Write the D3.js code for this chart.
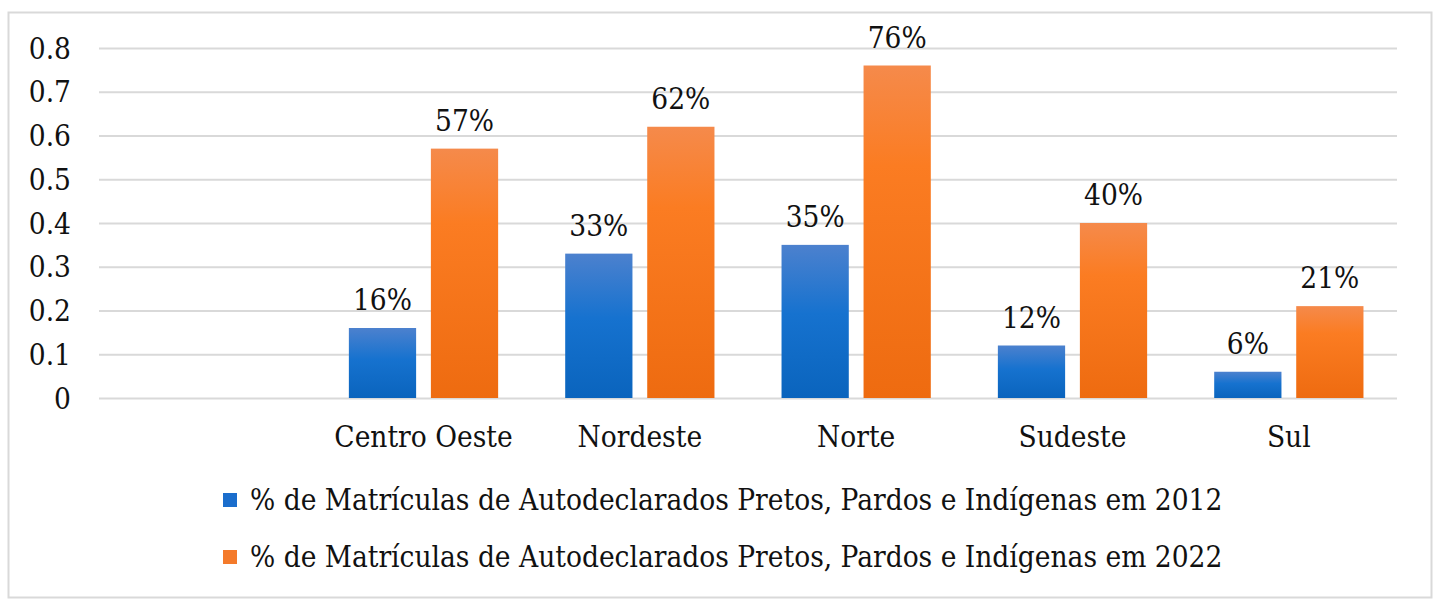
<!DOCTYPE html>
<html><head><meta charset="utf-8">
<script src="https://cdn.jsdelivr.net/npm/d3@7"></script>
<style>
html,body{margin:0;padding:0;background:#fff;}
svg text{font-family:"DejaVu Serif Condensed","DejaVu Serif",serif;font-stretch:condensed;fill:#111;}
</style></head>
<body>
<svg id="c" width="1440" height="606"></svg>
<script>
const categories = ["", "Centro Oeste", "Nordeste", "Norte", "Sudeste", "Sul"];
const series = ["% de Matrículas de Autodeclarados Pretos, Pardos e Indígenas em 2012",
                "% de Matrículas de Autodeclarados Pretos, Pardos e Indígenas em 2022"];
const values2012 = [null, 0.16, 0.33, 0.35, 0.12, 0.06];
const values2022 = [null, 0.57, 0.62, 0.76, 0.40, 0.21];
const yTicks = [0, 0.1, 0.2, 0.3, 0.4, 0.5, 0.6, 0.7, 0.8];

const FS = 29.5;
const svg = d3.select("#c");
const defs = svg.append("defs");
function grad(id, stops){
  const g = defs.append("linearGradient").attr("id", id).attr("x1",0).attr("y1",0).attr("x2",0).attr("y2",1);
  stops.forEach(([o,c]) => g.append("stop").attr("offset", o).attr("stop-color", c));
}
grad("gBlue", [[0,"#4c81ce"],[0.45,"#1672cf"],[1,"#0a64bd"]]);
grad("gOrange", [[0,"#f58a4b"],[0.3,"#fb7c22"],[1,"#ee6b10"]]);
const colors = ["url(#gBlue)", "url(#gOrange)"];
const legendColors = ["#1a6dcc", "#f47a2a"];

// border
svg.append("rect").attr("x",8.5).attr("y",12.5).attr("width",1423).attr("height",585)
  .attr("fill","none").attr("stroke","#d9d9d9").attr("stroke-width",2);

const y = d3.scaleLinear().domain([0, 0.8]).range([398, 48]);
const x0 = d3.scaleBand().domain(categories).range([99, 1397]).paddingInner(0.31).paddingOuter(0.155);
const x1 = d3.scaleBand().domain([0,1]).range([0, x0.bandwidth()]).paddingInner(0.18);

// gridlines
const yAxis = d3.axisLeft(y).tickValues(yTicks).tickSize(-(1397-99)).tickFormat(d => d === 0 ? "0" : d3.format(".1f")(d));
const ga = svg.append("g").attr("transform","translate(99,0)").call(yAxis);
ga.select(".domain").remove();
ga.selectAll(".tick line").attr("stroke","#d9d9d9").attr("stroke-width",2);
ga.selectAll(".tick text").attr("x",-28).attr("font-size",FS).attr("dy","0.34em")
  .style("font-family",null).attr("fill","#111");

// bars
const data = categories.map((c,i) => ({c, v:[values2012[i], values2022[i]]}));
const groups = svg.append("g").selectAll("g").data(data).join("g")
  .attr("transform", d => `translate(${x0(d.c)},0)`);
groups.selectAll("rect").data(d => d.v.map((v,k)=>({v,k})).filter(e=>e.v!=null)).join("rect")
  .attr("x", e => x1(e.k)).attr("width", x1.bandwidth())
  .attr("y", e => y(e.v)).attr("height", e => y(0) - y(e.v))
  .attr("fill", e => colors[e.k]);
groups.selectAll("text.lbl").data(d => d.v.map((v,k)=>({v,k})).filter(e=>e.v!=null)).join("text")
  .attr("class","lbl")
  .attr("x", e => x1(e.k) + x1.bandwidth()/2).attr("y", e => y(e.v) - 18)
  .attr("text-anchor","middle").attr("font-size",FS)
  .text(e => d3.format(".0%")(e.v));

// category labels
svg.append("g").selectAll("text").data(categories.filter(c=>c)).join("text")
  .attr("x", c => x0(c) + x0.bandwidth()/2).attr("y", 447)
  .attr("text-anchor","middle").attr("font-size",FS).text(c => c);

// legend
const lg = svg.append("g").selectAll("g").data(series).join("g")
  .attr("transform", (d,i) => `translate(223,${493 + i*57})`);
lg.append("rect").attr("width",14).attr("height",14).attr("fill",(d,i)=>legendColors[i]);
lg.append("text").attr("x",27).attr("y",7).attr("dy","0.35em").attr("font-size",FS).text(d=>d);
</script>
</body></html>
